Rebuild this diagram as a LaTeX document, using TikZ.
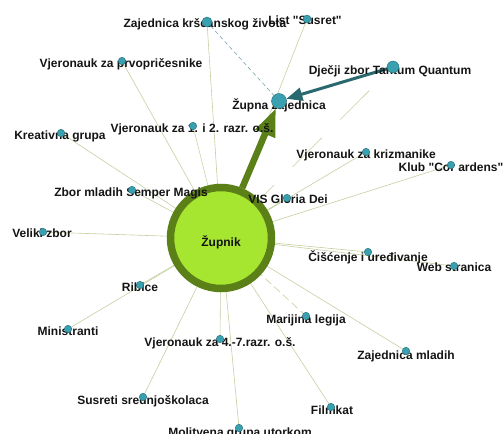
\documentclass[tikz,border=0pt]{standalone}
\usepackage{fontspec}
\setmainfont{Liberation Sans}[Ligatures=TeXOff]
\usetikzlibrary{arrows.meta}
\pgfdeclarelayer{edges}
\pgfdeclarelayer{hubs}
\pgfdeclarelayer{texts}
\pgfsetlayers{edges,hubs,texts,main}
\definecolor{edgeolive}{RGB}{196,208,160}
\definecolor{hubring}{RGB}{92,128,24}
\definecolor{hubfill}{RGB}{166,230,48}
\definecolor{dotteal}{RGB}{58,160,176}
\definecolor{dotline}{RGB}{30,110,122}
\definecolor{arrowteal}{RGB}{42,104,112}
\definecolor{dashblue}{RGB}{120,165,175}
\begin{document}
\begin{tikzpicture}[x=1pt, y=-1pt,
	dot/.style={circle, fill=dotteal, draw=dotline, line width=0.4pt, inner sep=0pt, minimum size=7.5pt},
	lbl/.style={font=\fontsize{12}{14}\selectfont\bfseries, text=black!92, inner sep=0pt, text height=8.6pt, text depth=0pt},
	link/.style={draw=edgeolive, line width=0.6pt},
	hub/.style={circle, fill=hubfill, draw=hubring, line width=7.5pt, minimum size=101pt, inner sep=0pt,
		font=\fontsize{12}{14}\selectfont\bfseries, text=black!92, text height=16.6pt, text depth=0pt}]
	\useasboundingbox (0,0) rectangle (504,434);
	% centre
	\begin{pgfonlayer}{hubs}
		\node[hub] (zupnik) at (221,238) {Župnik};
	\end{pgfonlayer}
	% groups
	\node[dot, minimum size=10pt] (zks) at (207,22) {};
	\node[dot, minimum size=8pt] (susret) at (307,19) {};
	\node[dot] (prvopric) at (122,61) {};
	\node[dot, minimum size=12pt] (djecji) at (393,67) {};
	\node[dot, minimum size=15pt] (zupna) at (279,101) {};
	\node[dot] (kreativna) at (61,133) {};
	\node[dot] (vjer12) at (193,126) {};
	\node[dot] (krizmanike) at (366,152) {};
	\node[dot] (klub) at (451,165) {};
	\node[dot] (semper) at (132,190) {};
	\node[dot] (gloria) at (287,198) {};
	\node[dot] (veliki) at (43,232) {};
	\node[dot] (ciscenje) at (368,252) {};
	\node[dot] (web) at (454,266) {};
	\node[dot] (ribice) at (140,285) {};
	\node[dot] (ministranti) at (68,329) {};
	\node[dot] (legija) at (306,316) {};
	\node[dot] (vjer47) at (220,339) {};
	\node[dot] (mladih) at (406,351) {};
	\node[dot] (susreti) at (143,397) {};
	\node[dot] (filmkat) at (331,407) {};
	\node[dot] (molitvena) at (239,428) {};
	% labels
	\begin{pgfonlayer}{texts}
		\node[lbl] (zks-t) at (205,23) {Zajednica kršćanskog života};
		\node[lbl] (susret-t) at (305,20) {List "Susret"};
		\node[lbl] (prvopric-t) at (121,63) {Vjeronauk za prvopričesnike};
		\node[lbl] (djecji-t) at (390,70) {Dječji zbor Tantum Quantum};
		\node[lbl] (zupna-t) at (279,105) {Župna zajednica};
		\node[lbl] (kreativna-t) at (60,135) {Kreativna grupa};
		\node[lbl] (vjer12-t) at (192,128) {Vjeronauk za 1. i 2. razr. o.š.};
		\node[lbl] (krizmanike-t) at (366,154) {Vjeronauk za krizmanike};
		\node[lbl] (klub-t) at (451,167) {Klub "Cor ardens"};
		\node[lbl] (semper-t) at (131,192) {Zbor mladih Semper Magis};
		\node[lbl] (gloria-t) at (288,199) {VIS Gloria Dei};
		\node[lbl] (veliki-t) at (42,233) {Veliki zbor};
		\node[lbl] (ciscenje-t) at (368,257) {Čišćenje i uređivanje};
		\node[lbl] (web-t) at (454,267) {Web stranica};
		\node[lbl] (ribice-t) at (140,287) {Ribice};
		\node[lbl] (ministranti-t) at (68,331) {Ministranti};
		\node[lbl] (legija-t) at (306,319) {Marijina legija};
		\node[lbl] (vjer47-t) at (220,342) {Vjeronauk za 4.-7.razr. o.š.};
		\node[lbl] (mladih-t) at (406,355) {Zajednica mladih};
		\node[lbl] (susreti-t) at (143,400) {Susreti srednjoškolaca};
		\node[lbl] (filmkat-t) at (332,410) {Filmkat};
		\node[lbl] (molitvena-t) at (240,432) {Molitvena grupa utorkom};
	\end{pgfonlayer}
	% links
	\begin{pgfonlayer}{edges}
		\foreach \g in {zks,susret,prvopric,kreativna,vjer12,krizmanike,klub,semper,gloria,veliki,
			ciscenje,web,ribice,ministranti,vjer47,mladih,susreti,filmkat,molitvena}
			\draw[link] (zupnik.center) -- (\g.center);
		\draw[link, dash pattern=on 41pt off 26pt, dash phase=33pt] (zupnik.center) -- (djecji.center);
		\draw[link, dash pattern=on 8pt off 4pt] (zupnik.center) -- (legija.center);
		\draw[dashblue, line width=0.6pt, dash pattern=on 4pt off 3pt] (zks) -- (zupna);
		\draw[hubring, line width=6.5pt, -{Triangle[length=28pt,width=20pt]}] (zupnik) -- (zupna);
		\draw[arrowteal, line width=3pt, -{Triangle[length=16pt,width=13pt]}] (djecji) -- (zupna);
	\end{pgfonlayer}
\end{tikzpicture}
\end{document}
